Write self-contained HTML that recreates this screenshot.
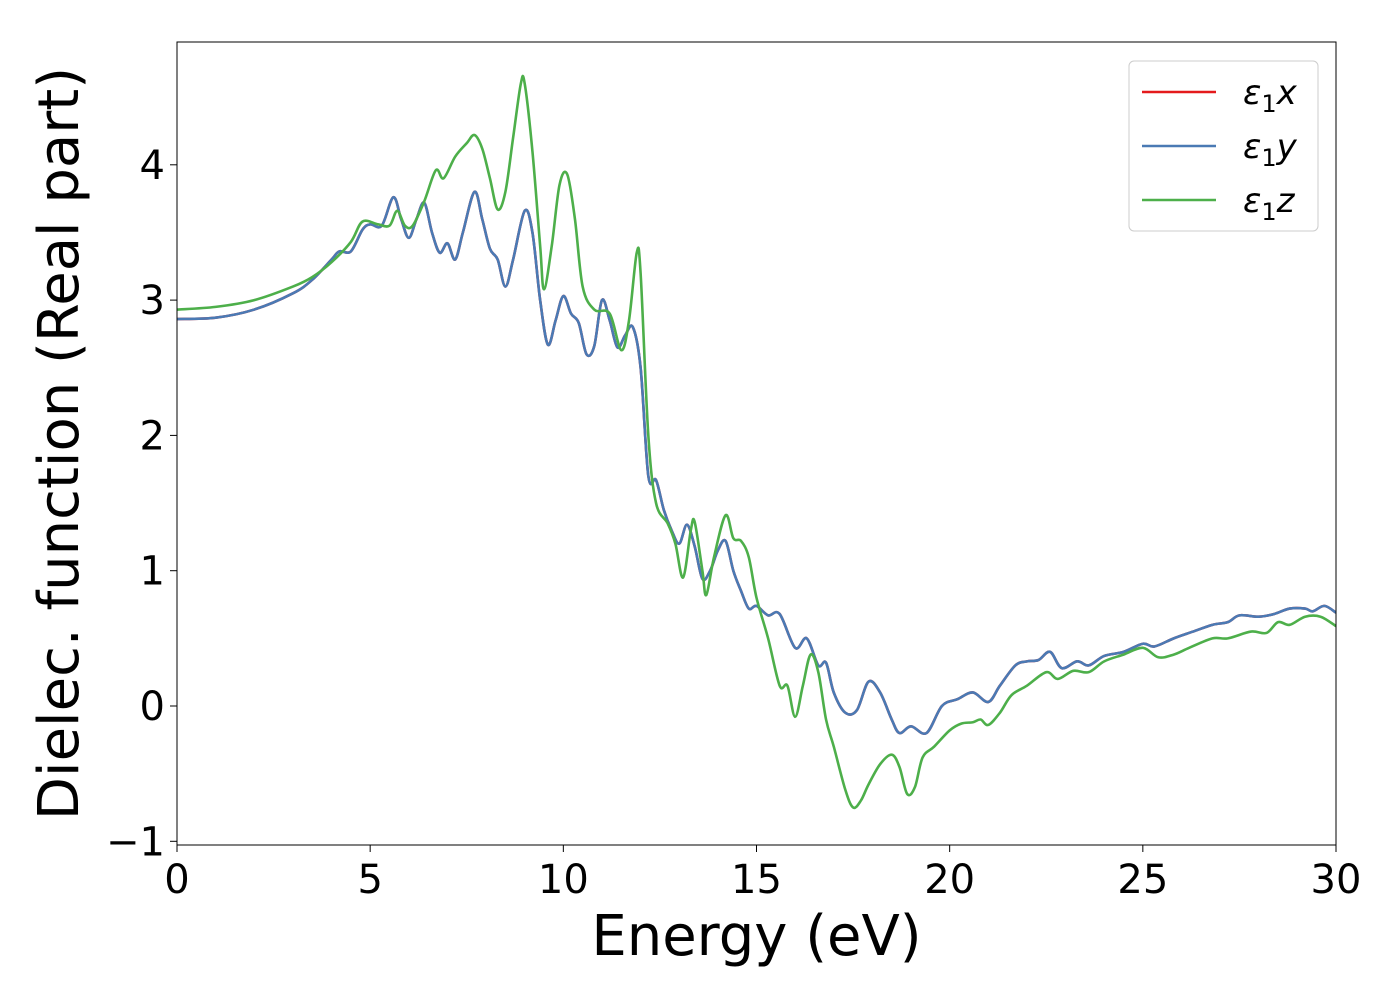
<!DOCTYPE html>
<html><head><meta charset="utf-8"><style>
body{margin:0;background:#fff;}
svg{display:block;font-family:"DejaVu Sans","Liberation Sans",sans-serif;}
</style></head><body>
<svg id="chart" width="1400" height="1000">
<g id="plot"></g>
</svg>
<script>
const energyBlue=[0,1,2,3,3.5,4,4.2,4.5,4.8,5,5.3,5.6,5.8,6,6.2,6.4,6.6,6.8,7,7.2,7.4,7.7,7.9,8.1,8.3,8.5,8.7,9.0,9.2,9.4,9.6,9.8,10.0,10.2,10.4,10.6,10.8,11.0,11.2,11.4,11.6,11.8,12,12.2,12.4,12.6,12.8,13,13.2,13.4,13.6,13.8,14,14.2,14.4,14.6,14.8,15,15.3,15.6,16,16.3,16.6,16.8,17,17.3,17.6,17.9,18.2,18.5,18.7,19.0,19.4,19.8,20.2,20.6,21,21.3,21.7,22,22.3,22.6,22.9,23.3,23.6,24,24.5,25,25.3,25.8,26.3,26.8,27.2,27.5,28,28.4,28.8,29.2,29.4,29.7,30];
const eps1y=[2.86,2.87,2.93,3.05,3.15,3.3,3.36,3.36,3.52,3.56,3.55,3.76,3.6,3.46,3.6,3.72,3.5,3.35,3.42,3.3,3.5,3.8,3.6,3.38,3.3,3.1,3.3,3.66,3.5,3.0,2.67,2.85,3.03,2.9,2.83,2.6,2.66,3.0,2.85,2.65,2.74,2.8,2.5,1.7,1.67,1.45,1.3,1.2,1.34,1.18,0.94,1.0,1.15,1.22,1.0,0.85,0.72,0.74,0.67,0.68,0.43,0.5,0.3,0.32,0.1,-0.05,-0.03,0.18,0.1,-0.1,-0.2,-0.15,-0.2,0,0.05,0.1,0.03,0.15,0.3,0.33,0.34,0.4,0.28,0.33,0.3,0.37,0.4,0.46,0.44,0.5,0.55,0.6,0.62,0.67,0.66,0.68,0.72,0.72,0.7,0.74,0.69];
const eps1x=eps1y.slice();
const energyGreen=[0,1,2,3,3.5,4,4.5,4.8,5.2,5.5,5.7,5.9,6.1,6.4,6.7,6.9,7.2,7.5,7.7,7.9,8.1,8.3,8.5,8.7,8.9,9.0,9.2,9.4,9.5,9.7,9.9,10.1,10.3,10.5,10.8,11.2,11.5,11.7,11.9,12.0,12.2,12.4,12.7,12.9,13.1,13.3,13.4,13.6,13.7,13.9,14.2,14.4,14.6,14.8,15.0,15.3,15.6,15.8,16.0,16.2,16.4,16.6,16.8,17,17.3,17.5,17.7,17.9,18.2,18.5,18.7,18.9,19.1,19.3,19.6,20,20.3,20.6,20.8,21,21.3,21.6,22,22.5,22.8,23.2,23.6,24,24.5,25,25.4,25.8,26.2,26.8,27.2,27.8,28.2,28.5,28.8,29.2,29.6,30];
const eps1z=[2.93,2.95,3.0,3.1,3.17,3.28,3.43,3.58,3.56,3.55,3.66,3.55,3.55,3.73,3.96,3.9,4.06,4.16,4.22,4.12,3.9,3.67,3.8,4.2,4.6,4.6,4.1,3.4,3.08,3.4,3.85,3.93,3.6,3.1,2.93,2.9,2.63,2.85,3.35,3.2,2.0,1.5,1.35,1.2,0.95,1.3,1.36,1.0,0.82,1.1,1.41,1.24,1.22,1.1,0.8,0.5,0.15,0.15,-0.08,0.15,0.38,0.25,-0.1,-0.3,-0.62,-0.75,-0.7,-0.58,-0.43,-0.36,-0.45,-0.65,-0.6,-0.38,-0.3,-0.18,-0.13,-0.12,-0.1,-0.14,-0.05,0.08,0.15,0.25,0.2,0.26,0.25,0.33,0.38,0.43,0.36,0.38,0.43,0.5,0.5,0.55,0.54,0.62,0.6,0.66,0.66,0.59];
const xTicks=[0,5,10,15,20,25,30];
const yTicks=[-1,0,1,2,3,4];
const yTickLabels=["\u22121","0","1","2","3","4"];

const L=177,R=1336,T=42,B=845;
const X=v=>L+(v-0)/30*(R-L);
const Y=v=>706-v*135.3;
const NS="http://www.w3.org/2000/svg";
const svg=document.getElementById('chart');
function mk(tag,attrs,parent){const e=document.createElementNS(NS,tag);for(const k in attrs)e.setAttribute(k,attrs[k]);(parent||svg).appendChild(e);return e;}
function smooth(xs,ys){const p=xs.map((x,i)=>[X(x),Y(ys[i])]);let d=`M${p[0][0]},${p[0][1]}`;for(let i=0;i<p.length-1;i++){const p0=p[i-1]||p[i],p1=p[i],p2=p[i+1],p3=p[i+2]||p2;const c1=[p1[0]+(p2[0]-p0[0])/6,p1[1]+(p2[1]-p0[1])/6],c2=[p2[0]-(p3[0]-p1[0])/6,p2[1]-(p3[1]-p1[1])/6];d+=`C${c1[0]},${c1[1]} ${c2[0]},${c2[1]} ${p2[0]},${p2[1]}`;}return d;}
const clip=mk('clipPath',{id:'cp'});mk('rect',{x:L,y:T,width:R-L,height:B-T},clip);
const lines=[[energyBlue,eps1x,'#e41a1c','line-eps1x'],[energyBlue,eps1y,'#4a7ab4','line-eps1y'],[energyGreen,eps1z,'#4daf4a','line-eps1z']];
lines.forEach(([xs,ys,c,n])=>{const p=mk('path',{d:smooth(xs,ys),fill:'none',stroke:c,'stroke-width':2.6,'clip-path':'url(#cp)'});

});
const frame=mk('rect',{x:L,y:T,width:R-L,height:B-T,fill:'none',stroke:'#000','stroke-width':1});


xTicks.forEach(t=>{mk('line',{x1:X(t),x2:X(t),y1:B,y2:B+7,stroke:'#000'});const tx=mk('text',{x:X(t),y:B+48,'font-size':40,'text-anchor':'middle'});tx.textContent=t;

});
yTicks.forEach((t,i)=>{mk('line',{x1:L-7,x2:L,y1:Y(t),y2:Y(t),stroke:'#000'});const tx=mk('text',{x:L-12,y:Y(t)+14,'font-size':40,'text-anchor':'end'});tx.textContent=yTickLabels[i];

});
const xl=mk('text',{x:(L+R)/2,y:955,'font-size':56,'text-anchor':'middle'});xl.textContent='Energy (eV)';


const yl=mk('text',{x:0,y:0,'font-size':56,'text-anchor':'middle',transform:`translate(78,${(T+B)/2}) rotate(-90)`});yl.textContent='Dielec. function (Real part)';


const lg=mk('g',{});


mk('rect',{x:1129,y:61,width:189,height:170,rx:5,fill:'#fff',stroke:'#ccc'},lg);
const labs=['x','y','z'];
lines.forEach(([xs,ys,c,n],i)=>{const yy=92+i*54;mk('line',{x1:1142,x2:1216,y1:yy,y2:yy,stroke:c,'stroke-width':2.6},lg);
const t=mk('text',{x:1243,y:yy+12,'font-size':34,'font-style':'italic'},lg);t.innerHTML=`ε<tspan font-style="normal" font-size="24" dy="8">1</tspan><tspan dy="-8">${labs[i]}</tspan>`;

});
</script>
</body></html>
